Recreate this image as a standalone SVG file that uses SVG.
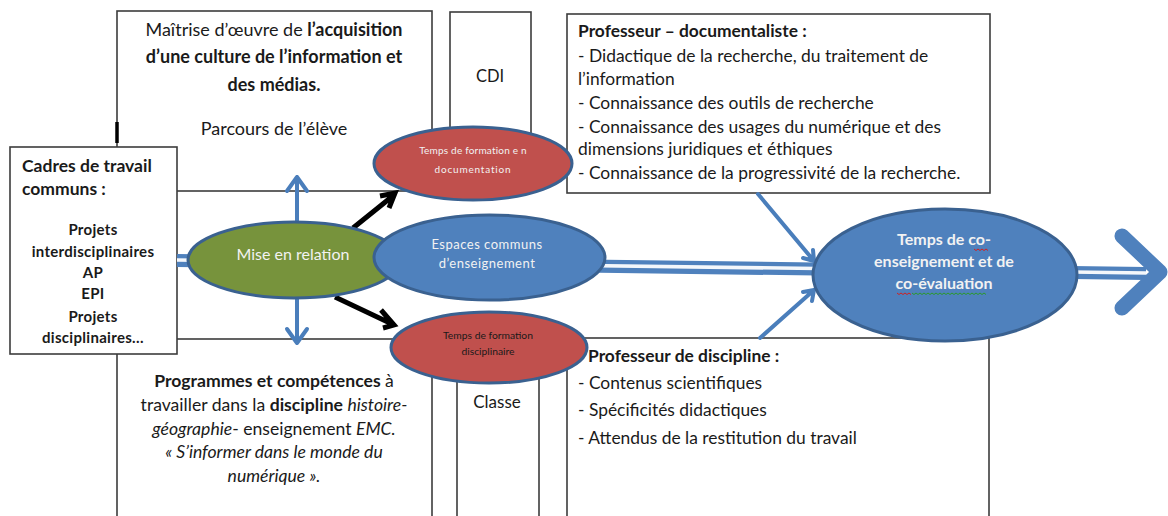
<svg xmlns="http://www.w3.org/2000/svg" width="1168" height="516" viewBox="0 0 1168 516">
<defs>
<style>
text { font-family: Lato, "Open Sans", "Liberation Sans", sans-serif; fill: #1a1a1a; }
.box { fill: #fff; stroke: #3c3c3c; stroke-width: 1.6; }
.b { font-weight: bold; }
.i { font-style: italic; }
.ell { stroke: #3a6190; stroke-width: 3; }
.red { fill: #C0504D; }
.green { fill: #77933C; }
.blue { fill: #4F81BD; }
.wt { fill: #f2f2f2; }
.barrow { stroke: #4A7EBB; stroke-width: 4; fill: none; stroke-linecap: round; stroke-linejoin: round; }
.karrow { stroke: #000; stroke-width: 5; fill: none; stroke-linejoin: miter; }
.top { font-size: 18px; }
.bot { font-size: 17.6px; }
.prof { font-size: 17.4px; }
.sq { fill: none; stroke-width: 1; }
</style>
</defs>
<rect width="1168" height="516" fill="#fff"/>

<g id="box-maitrise">
<rect class="box" x="117" y="11" width="315" height="180"/>
<line x1="117" y1="122" x2="117" y2="143" stroke="#000" stroke-width="3.5"/>
<text x="274" y="36" text-anchor="middle" class="top">Maîtrise d’œuvre de <tspan class="b">l’acquisition</tspan></text>
<text x="274" y="63" text-anchor="middle" class="top b">d’une culture de l’information et</text>
<text x="274" y="91" text-anchor="middle" class="top b">des médias.</text>
<text x="274" y="135" text-anchor="middle" class="top">Parcours de l’élève</text>
</g>

<g id="box-cdi">
<rect class="box" x="450" y="12" width="81" height="178"/>
<text x="490" y="82" text-anchor="middle" font-size="16.5">CDI</text>
</g>

<g id="box-programmes">
<rect class="box" x="117" y="339" width="315" height="200"/>
<text x="274" y="387" text-anchor="middle" class="bot"><tspan class="b">Programmes et compétences</tspan> à</text>
<text x="274" y="411" text-anchor="middle" class="bot">travailler dans la <tspan class="b">discipline</tspan> <tspan class="i">histoire-</tspan></text>
<text x="274" y="435" text-anchor="middle" class="bot"><tspan class="i">géographie</tspan>- enseignement <tspan class="i">EMC.</tspan></text>
<text x="274" y="458" text-anchor="middle" class="bot i">« S’informer dans le monde du</text>
<text x="274" y="482" text-anchor="middle" class="bot i">numérique ».</text>
</g>

<g id="box-classe">
<rect class="box" x="457" y="345" width="82" height="200"/>
<text x="497" y="408" text-anchor="middle" font-size="17">Classe</text>
</g>

<g id="box-prof-doc">
<rect class="box" x="567" y="14" width="423" height="179"/>
<text x="578" y="37" class="prof b">Professeur – documentaliste :</text>
<text x="578" y="62" class="prof">- Didactique de la recherche, du traitement de</text>
<text x="578" y="85" class="prof">l’information</text>
<text x="578" y="109" class="prof">- Connaissance des outils de recherche</text>
<text x="578" y="133" class="prof">- Connaissance des usages du numérique et des</text>
<text x="578" y="155" class="prof">dimensions juridiques et éthiques</text>
<text x="578" y="179" class="prof">- Connaissance de la progressivité de la recherche.</text>
</g>

<g id="box-prof-disc">
<rect class="box" x="567" y="338" width="422" height="200"/>
<text x="588" y="362" class="prof b">Professeur de discipline :</text>
<text x="578" y="389" class="prof">- Contenus scientifiques</text>
<text x="578" y="416" class="prof">- Spécificités didactiques</text>
<text x="578" y="444" class="prof">- Attendus de la restitution du travail</text>
</g>

<g id="box-cadres">
<rect class="box" x="10" y="147" width="167" height="207"/>
<text x="22" y="172" font-size="17.5" class="b">Cadres de travail</text>
<text x="22" y="195" font-size="17.5" class="b">communs :</text>
<g font-size="15" class="b" text-anchor="middle" letter-spacing="0.3">
<text x="93" y="235">Projets</text>
<text x="93" y="257">interdisciplinaires</text>
<text x="93" y="278">AP</text>
<text x="93" y="299">EPI</text>
<text x="93" y="322">Projets</text>
<text x="93" y="343">disciplinaires…</text>
</g>
</g>

<g id="connectors">
<line x1="177" y1="260.5" x2="1146" y2="273.5" stroke="#4F81BD" stroke-width="13"/>
<line x1="177" y1="260" x2="1146" y2="273" stroke="#f4f7fb" stroke-width="3.5"/>
<path d="M1122,236 L1160,272 L1122,308" fill="none" stroke="#4F81BD" stroke-width="15" stroke-linecap="round" stroke-linejoin="round"/>
<path class="barrow" d="M297,222 L297,177 M287,191 L297,177 L307,191"/>
<path class="barrow" d="M297,298 L297,343 M287,329 L297,343 L307,329"/>
<path class="karrow" d="M353,228 L394,195 M380,196 L395,193 L389,208"/>
<path class="karrow" d="M335,297 L392,324 M381,310 L394,325 L383,328"/>
<path class="barrow" d="M758,194 L814,261 M803,258 L814,261 L813,250"/>
<path class="barrow" d="M760,338 L814,290 M803,292 L814,290 L812,301"/>
</g>

<g id="node-mise-en-relation">
<ellipse class="ell green" cx="294" cy="260" rx="106" ry="38"/>
<text x="293" y="260" text-anchor="middle" font-size="16" class="wt">Mise en relation</text>
</g>

<g id="node-espaces">
<ellipse class="ell blue" cx="489.5" cy="257.5" rx="115.5" ry="42.5"/>
<text x="487" y="249" text-anchor="middle" font-size="13" class="wt" letter-spacing="0.5">Espaces communs</text>
<text x="487" y="268" text-anchor="middle" font-size="13" class="wt" letter-spacing="0.5">d’enseignement</text>
</g>

<g id="node-formation-doc">
<ellipse class="ell red" cx="473" cy="163.5" rx="99" ry="36.5"/>
<text x="473" y="154" text-anchor="middle" font-size="10" class="wt" letter-spacing="0.2">Temps de formation  e n</text>
<text x="473" y="173" text-anchor="middle" font-size="10" class="wt" letter-spacing="0.8">documentation</text>
</g>

<g id="node-formation-disc">
<ellipse class="ell red" cx="489" cy="347.5" rx="98" ry="35.5"/>
<text x="488" y="339" text-anchor="middle" font-size="10.3" fill="#2a1010">Temps de formation</text>
<text x="488" y="355" text-anchor="middle" font-size="10.3" fill="#2a1010">disciplinaire</text>
</g>

<g id="node-co-enseignement">
<ellipse class="ell blue" cx="945" cy="275" rx="132" ry="66"/>
<text x="944" y="245" text-anchor="middle" font-size="16" class="b wt">Temps de co-</text>
<text x="944" y="267" text-anchor="middle" font-size="16" class="b wt">enseignement et de</text>
<text x="944" y="289" text-anchor="middle" font-size="16" class="b wt">co-évaluation</text>
<path class="sq" stroke="#d02020" d="M974,249 l2,1.5 l2,-1.5 l2,1.5 l2,-1.5 l2,1.5 l2,-1.5 l2,1.5"/>
<path class="sq" stroke="#d02020" d="M897,293 l2,1.5 l2,-1.5 l2,1.5 l2,-1.5 l2,1.5 l2,-1.5 l2,1.5"/>
<path class="sq" stroke="#2a9a2a" d="M912,293 l2,1.5 l2,-1.5 l2,1.5 l2,-1.5 l2,1.5 l2,-1.5 l2,1.5 l2,-1.5 l2,1.5 l2,-1.5 l2,1.5 l2,-1.5 l2,1.5 l2,-1.5 l2,1.5 l2,-1.5 l2,1.5 l2,-1.5 l2,1.5 l2,-1.5 l2,1.5 l2,-1.5 l2,1.5 l2,-1.5 l2,1.5 l2,-1.5 l2,1.5 l2,-1.5 l2,1.5 l2,-1.5 l2,1.5 l2,-1.5 l2,1.5 l2,-1.5 l2,1.5 l2,-1.5 l2,1.5"/>
</g>
</svg>
